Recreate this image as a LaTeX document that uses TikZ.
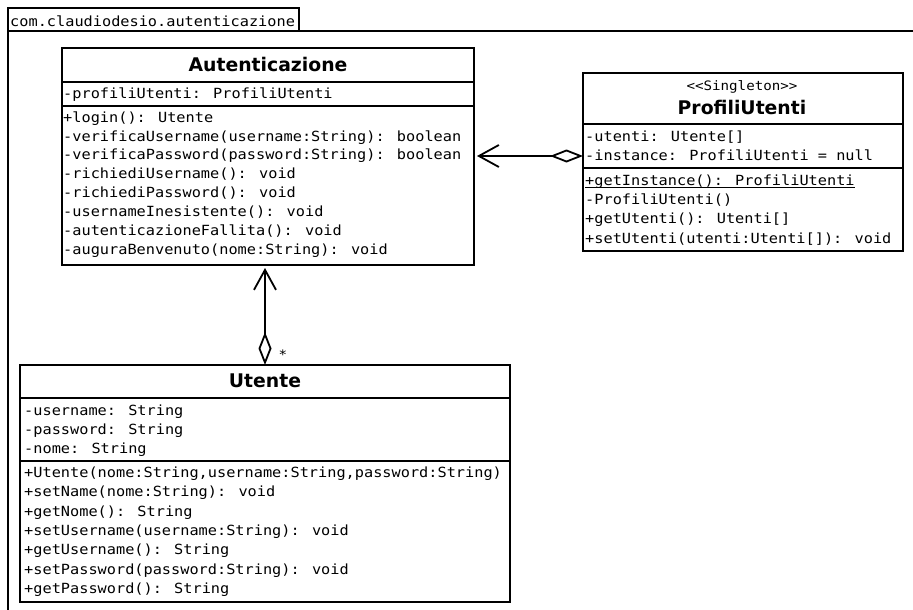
\documentclass[tikz,border=0pt]{standalone}
\usepackage{fontspec}
\usetikzlibrary{arrows.meta}
\newfontfamily\umlmono[FakeStretch=1.09]{DejaVu Sans Mono}
\newfontfamily\umlsans{DejaVu Sans}
\begin{document}
\begin{tikzpicture}[x=1pt,y=-1pt,
  umlline/.style={line width=1.8pt},
  classbox/.style={draw, umlline, rectangle, inner sep=0pt, outer sep=0pt, fill=white},
  member/.style={anchor=base west, inner sep=0pt, font=\umlmono\fontsize{14}{16}\selectfont},
  classname/.style={anchor=base, inner sep=0pt, font=\umlsans\bfseries\fontsize{18.8}{20}\selectfont},
  stereotype/.style={anchor=base, inner sep=0pt, font=\umlmono\fontsize{13}{15}\selectfont},
  aggregation/.style={umlline, shorten >=3pt,
    {Diamond[open,length=33pt,width=13pt,line width=1.8pt]}-{Straight Barb[length=20pt,width=22pt,line width=1.8pt]}}
]
\clip (0,0) rectangle (913,610);
\fill[white] (0,0) rectangle (913,610);

% package frame with its name tab
\node[draw, umlline, rectangle, inner sep=0pt, outer sep=0pt, anchor=north west,
      minimum width=291pt, minimum height=23pt] (tab) at (8,8) {};
\node[member] (pkgname) at (10,27) {com.claudiodesio.autenticazione};
\node[draw, umlline, rectangle, inner sep=0pt, outer sep=0pt, anchor=north west,
      minimum width=960pt, minimum height=640pt] (pkg) at (8,31) {};

% class Autenticazione
\node[classbox, anchor=north west, minimum width=412pt, minimum height=217pt] (auth) at (62,48) {};
\draw[umlline] ([yshift=-34pt]auth.north west) -- ([yshift=-34pt]auth.north east);
\draw[umlline] ([yshift=-58pt]auth.north west) -- ([yshift=-58pt]auth.north east);
\node[classname] (authname) at (268,72) {Autenticazione};
\node[member] (auth-a1) at (63,98.7) {-profiliUtenti: ProfiliUtenti};
\node[member] (auth-m1) at (63,122.0) {+login(): Utente};
\node[member] (auth-m2) at (63,141.0) {-verificaUsername(username:String): boolean};
\node[member] (auth-m3) at (63,159.9) {-verificaPassword(password:String): boolean};
\node[member] (auth-m4) at (63,178.9) {-richiediUsername(): void};
\node[member] (auth-m5) at (63,197.8) {-richiediPassword(): void};
\node[member] (auth-m6) at (63,216.8) {-usernameInesistente(): void};
\node[member] (auth-m7) at (63,235.8) {-autenticazioneFallita(): void};
\node[member] (auth-m8) at (63,254.7) {-auguraBenvenuto(nome:String): void};

% class ProfiliUtenti
\node[classbox, anchor=north west, minimum width=320pt, minimum height=178pt] (prof) at (583,73) {};
\draw[umlline] ([yshift=-51pt]prof.north west) -- ([yshift=-51pt]prof.north east);
\draw[umlline] ([yshift=-95pt]prof.north west) -- ([yshift=-95pt]prof.north east);
\node[stereotype] (profstereo) at (742,91) {<<Singleton>>};
\node[classname] (profname) at (742,114.5) {ProfiliUtenti};
\node[member] (prof-a1) at (585,141.4) {-utenti: Utente[]};
\node[member] (prof-a2) at (585,160.7) {-instance: ProfiliUtenti = null};
\node[member] (prof-m1) at (585,185.0) {+getInstance(): ProfiliUtenti};
\draw[line width=1pt] ([yshift=-2pt]prof-m1.base west) -- ([yshift=-2pt]prof-m1.base east);
\node[member] (prof-m2) at (585,204.3) {-ProfiliUtenti()};
\node[member] (prof-m3) at (585,223.6) {+getUtenti(): Utenti[]};
\node[member] (prof-m4) at (585,243.0) {+setUtenti(utenti:Utenti[]): void};

% class Utente
\node[classbox, anchor=north west, minimum width=490pt, minimum height=237pt] (ut) at (20,365) {};
\draw[umlline] ([yshift=-33pt]ut.north west) -- ([yshift=-33pt]ut.north east);
\draw[umlline] ([yshift=-96pt]ut.north west) -- ([yshift=-96pt]ut.north east);
\node[classname] (utname) at (265,387) {Utente};
\node[member] (ut-a1) at (24,415.3) {-username: String};
\node[member] (ut-a2) at (24,434.5) {-password: String};
\node[member] (ut-a3) at (24,453.7) {-nome: String};
\node[member] (ut-m1) at (24,477.4) {+Utente(nome:String,username:String,password:String)};
\node[member] (ut-m2) at (24,496.8) {+setName(nome:String): void};
\node[member] (ut-m3) at (24,516.2) {+getNome(): String};
\node[member] (ut-m4) at (24,535.5) {+setUsername(username:String): void};
\node[member] (ut-m5) at (24,554.9) {+getUsername(): String};
\node[member] (ut-m6) at (24,574.3) {+setPassword(password:String): void};
\node[member] (ut-m7) at (24,593.7) {+getPassword(): String};

% aggregations
\coordinate (profend) at ([yshift=6pt]prof.west);
\draw[aggregation] (profend) -- (auth.east |- profend);
\draw[aggregation] (ut.north) -- (ut.north |- auth.south);
\node[inner sep=0pt, font=\umlmono\fontsize{13}{15}\selectfont] (mult) at ([xshift=18pt,yshift=10pt]ut.north) {*};
\end{tikzpicture}
\end{document}
